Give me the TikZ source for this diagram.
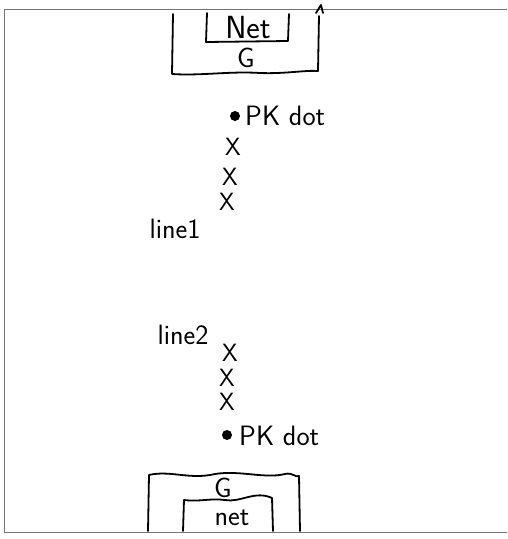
\documentclass[tikz,border=0pt]{standalone}
\begin{document}
\begin{tikzpicture}[x=1pt,y=-1pt,
  ink/.style={line width=1.8pt,line cap=round,line join=round},
  frameline/.style={line width=1pt,black!55},
  lbl/.style={inner sep=0pt,font=\sffamily\fontsize{28}{32}\selectfont},
  biglbl/.style={inner sep=0pt,font=\sffamily\fontsize{32}{36}\selectfont},
  xmark/.style={inner sep=0pt,font=\sffamily\fontsize{25}{28}\selectfont},
  pkdot/.style={circle,fill=black,inner sep=0pt,minimum width=9pt,minimum height=10pt}]
\useasboundingbox (0,0) rectangle (507,539);
% page frame
\draw[frameline] (507,9) -- (4,9) -- (4,532) -- (507,532);
% top boxes
\draw[ink] (173,14) -- (172,74) .. controls (200,76) and (230,71) .. (260,73)
  .. controls (285,74) and (305,70) .. (318,71) -- (319,16);
\draw[ink] (316,13) -- (321,5) -- (323,13);
\draw[ink] (207,13) -- (206,42) -- (288,41) -- (289,14);
\node[biglbl] (net1) at (248,28) {Net};
\node[lbl] (g1) at (246,58) {G};
% top chain
\node[pkdot] (d1) at (235,116) {};
\node[lbl,anchor=west] (pk1) at (245,116) {PK dot};
\node[xmark] (x1) at (233,147) {X};
\node[xmark] (x2) at (230,177) {X};
\node[xmark] (x3) at (227,202) {X};
\node[lbl] (l1) at (175,229) {line1};
% bottom chain
\node[lbl] (l2) at (183,335) {line2};
\node[xmark] (x4) at (230,353) {X};
\node[xmark] (x5) at (227,378) {X};
\node[xmark] (x6) at (227,402) {X};
\node[pkdot] (d2) at (227,435) {};
\node[lbl,anchor=west] (pk2) at (239,436) {PK dot};
% bottom boxes
\draw[ink] (148,531) -- (149,475) .. controls (170,470) and (190,480) .. (215,474)
  .. controls (240,470) and (265,479) .. (285,474) .. controls (292,472) and (296,478) .. (299,476) -- (300,531);
\draw[ink] (183,531) -- (184,500) .. controls (200,502) and (210,498) .. (225,500)
  .. controls (240,503) and (255,490) .. (272,498) -- (273,531);
\node[lbl] (g2) at (223,488) {G};
\node[lbl] (net2) at (232,518) {net};
\end{tikzpicture}
\end{document}
